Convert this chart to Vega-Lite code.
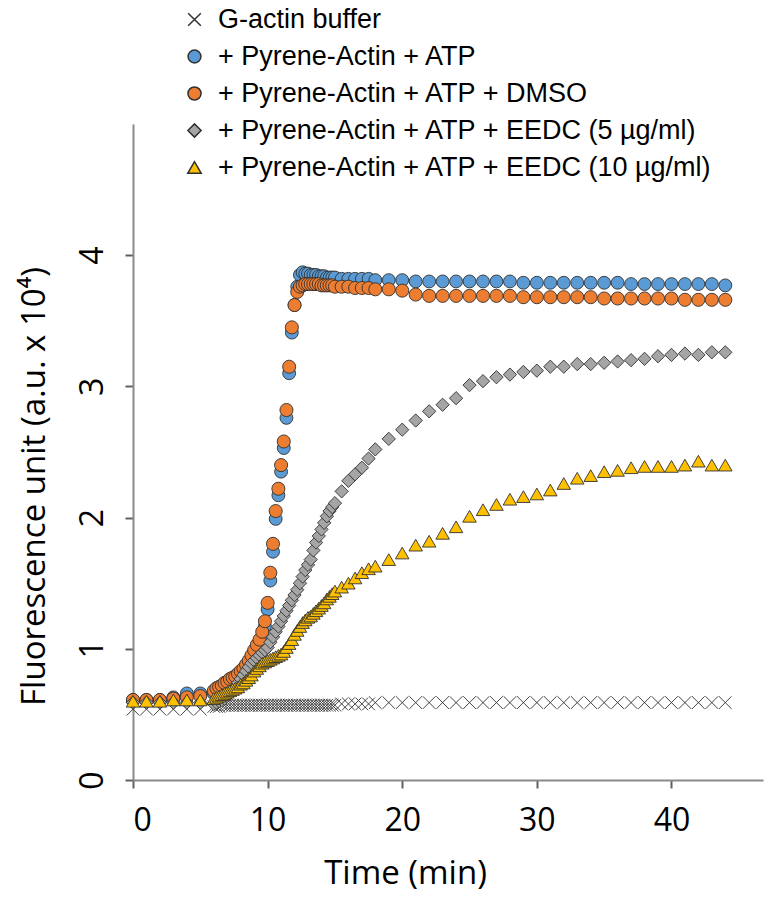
{
  "$schema": "https://vega.github.io/schema/vega-lite/v6.json",
  "width": 630,
  "height": 656,
  "autosize": {"type": "none"},
  "padding": {"left": 133, "top": 124, "right": 9, "bottom": 124},
  "background": "white",
  "config": {"view": {"stroke": null}, "font": "Open Sans"},
  "data": {"values": [
    {"t":0,"a":0.54,"b":0.61,"c":0.61,"d":0.59,"e":0.60},
    {"t":1,"a":0.54,"b":0.61,"c":0.61,"d":0.59,"e":0.60},
    {"t":2,"a":0.54,"b":0.61,"c":0.61,"d":0.59,"e":0.60},
    {"t":3,"a":0.54,"b":0.63,"c":0.62,"d":0.59,"e":0.61},
    {"t":4,"a":0.54,"b":0.66,"c":0.63,"d":0.59,"e":0.61},
    {"t":5,"a":0.54,"b":0.66,"c":0.64,"d":0.59,"e":0.61},
    {"t":6.0,"a":0.56,"b":0.66,"c":0.68,"d":0.58,"e":0.62},
    {"t":6.2,"a":0.56,"b":0.67,"c":0.70,"d":0.59,"e":0.63},
    {"t":6.4,"a":0.56,"b":0.68,"c":0.71,"d":0.60,"e":0.64},
    {"t":6.6,"a":0.57,"b":0.69,"c":0.72,"d":0.61,"e":0.65},
    {"t":6.8,"a":0.57,"b":0.71,"c":0.74,"d":0.62,"e":0.66},
    {"t":7.0,"a":0.57,"b":0.72,"c":0.75,"d":0.64,"e":0.67},
    {"t":7.2,"a":0.57,"b":0.74,"c":0.77,"d":0.66,"e":0.68},
    {"t":7.4,"a":0.57,"b":0.75,"c":0.78,"d":0.68,"e":0.69},
    {"t":7.6,"a":0.57,"b":0.77,"c":0.79,"d":0.71,"e":0.70},
    {"t":7.8,"a":0.57,"b":0.79,"c":0.81,"d":0.74,"e":0.71},
    {"t":8.0,"a":0.57,"b":0.81,"c":0.83,"d":0.77,"e":0.73},
    {"t":8.2,"a":0.57,"b":0.83,"c":0.85,"d":0.80,"e":0.74},
    {"t":8.4,"a":0.57,"b":0.86,"c":0.88,"d":0.83,"e":0.76},
    {"t":8.6,"a":0.57,"b":0.89,"c":0.91,"d":0.86,"e":0.78},
    {"t":8.8,"a":0.57,"b":0.93,"c":0.95,"d":0.89,"e":0.80},
    {"t":9.0,"a":0.57,"b":0.96,"c":0.99,"d":0.91,"e":0.83},
    {"t":9.2,"a":0.57,"b":1.00,"c":1.03,"d":0.93,"e":0.85},
    {"t":9.4,"a":0.57,"b":1.04,"c":1.07,"d":0.95,"e":0.87},
    {"t":9.6,"a":0.57,"b":1.09,"c":1.13,"d":0.97,"e":0.89},
    {"t":9.8,"a":0.57,"b":1.17,"c":1.21,"d":0.99,"e":0.90},
    {"t":10.0,"a":0.57,"b":1.30,"c":1.35,"d":1.01,"e":0.91},
    {"t":10.2,"a":0.57,"b":1.52,"c":1.58,"d":1.05,"e":0.92},
    {"t":10.4,"a":0.57,"b":1.74,"c":1.80,"d":1.09,"e":0.93},
    {"t":10.6,"a":0.57,"b":1.99,"c":2.05,"d":1.13,"e":0.94},
    {"t":10.8,"a":0.57,"b":2.17,"c":2.22,"d":1.17,"e":0.95},
    {"t":11.0,"a":0.57,"b":2.35,"c":2.40,"d":1.21,"e":0.96},
    {"t":11.2,"a":0.57,"b":2.53,"c":2.58,"d":1.25,"e":0.98},
    {"t":11.4,"a":0.57,"b":2.76,"c":2.82,"d":1.29,"e":1.01},
    {"t":11.6,"a":0.57,"b":3.10,"c":3.15,"d":1.33,"e":1.04},
    {"t":11.8,"a":0.57,"b":3.41,"c":3.45,"d":1.37,"e":1.07},
    {"t":12.0,"a":0.57,"b":3.62,"c":3.62,"d":1.41,"e":1.11},
    {"t":12.2,"a":0.57,"b":3.76,"c":3.72,"d":1.45,"e":1.14},
    {"t":12.4,"a":0.57,"b":3.85,"c":3.76,"d":1.50,"e":1.17},
    {"t":12.6,"a":0.57,"b":3.87,"c":3.77,"d":1.55,"e":1.20},
    {"t":12.8,"a":0.57,"b":3.86,"c":3.78,"d":1.60,"e":1.22},
    {"t":13.0,"a":0.57,"b":3.86,"c":3.78,"d":1.64,"e":1.24},
    {"t":13.2,"a":0.57,"b":3.85,"c":3.78,"d":1.68,"e":1.25},
    {"t":13.4,"a":0.57,"b":3.85,"c":3.78,"d":1.75,"e":1.27},
    {"t":13.6,"a":0.57,"b":3.85,"c":3.78,"d":1.81,"e":1.29},
    {"t":13.8,"a":0.57,"b":3.84,"c":3.78,"d":1.86,"e":1.31},
    {"t":14.0,"a":0.57,"b":3.84,"c":3.77,"d":1.91,"e":1.33},
    {"t":14.2,"a":0.57,"b":3.84,"c":3.77,"d":1.96,"e":1.35},
    {"t":14.4,"a":0.57,"b":3.83,"c":3.77,"d":2.01,"e":1.38},
    {"t":14.6,"a":0.57,"b":3.83,"c":3.77,"d":2.05,"e":1.40},
    {"t":14.8,"a":0.57,"b":3.83,"c":3.77,"d":2.08,"e":1.42},
    {"t":15.0,"a":0.57,"b":3.83,"c":3.76,"d":2.11,"e":1.44},
    {"t":15.5,"a":0.58,"b":3.82,"c":3.76,"d":2.20,"e":1.47},
    {"t":16,"a":0.58,"b":3.82,"c":3.76,"d":2.28,"e":1.50},
    {"t":16.5,"a":0.58,"b":3.82,"c":3.75,"d":2.33,"e":1.54},
    {"t":17,"a":0.58,"b":3.82,"c":3.75,"d":2.38,"e":1.58},
    {"t":17.5,"a":0.58,"b":3.82,"c":3.75,"d":2.45,"e":1.61},
    {"t":18,"a":0.59,"b":3.81,"c":3.74,"d":2.52,"e":1.63},
    {"t":19,"a":0.59,"b":3.81,"c":3.74,"d":2.60,"e":1.68},
    {"t":20,"a":0.59,"b":3.81,"c":3.73,"d":2.67,"e":1.73},
    {"t":21,"a":0.59,"b":3.80,"c":3.70,"d":2.74,"e":1.79},
    {"t":22,"a":0.59,"b":3.80,"c":3.69,"d":2.81,"e":1.82},
    {"t":23,"a":0.59,"b":3.80,"c":3.69,"d":2.86,"e":1.88},
    {"t":24,"a":0.59,"b":3.80,"c":3.69,"d":2.91,"e":1.93},
    {"t":25,"a":0.59,"b":3.80,"c":3.69,"d":3.01,"e":2.01},
    {"t":26,"a":0.59,"b":3.80,"c":3.69,"d":3.04,"e":2.06},
    {"t":27,"a":0.59,"b":3.80,"c":3.69,"d":3.07,"e":2.10},
    {"t":28,"a":0.59,"b":3.80,"c":3.69,"d":3.09,"e":2.14},
    {"t":29,"a":0.59,"b":3.79,"c":3.68,"d":3.11,"e":2.16},
    {"t":30,"a":0.59,"b":3.79,"c":3.68,"d":3.12,"e":2.18},
    {"t":31,"a":0.59,"b":3.79,"c":3.68,"d":3.15,"e":2.21},
    {"t":32,"a":0.59,"b":3.79,"c":3.68,"d":3.15,"e":2.26},
    {"t":33,"a":0.59,"b":3.79,"c":3.68,"d":3.17,"e":2.30},
    {"t":34,"a":0.59,"b":3.79,"c":3.68,"d":3.17,"e":2.32},
    {"t":35,"a":0.59,"b":3.79,"c":3.67,"d":3.18,"e":2.35},
    {"t":36,"a":0.59,"b":3.79,"c":3.67,"d":3.19,"e":2.36},
    {"t":37,"a":0.59,"b":3.78,"c":3.67,"d":3.20,"e":2.38},
    {"t":38,"a":0.59,"b":3.78,"c":3.67,"d":3.21,"e":2.39},
    {"t":39,"a":0.59,"b":3.78,"c":3.67,"d":3.23,"e":2.39},
    {"t":40,"a":0.59,"b":3.78,"c":3.67,"d":3.24,"e":2.39},
    {"t":41,"a":0.59,"b":3.78,"c":3.66,"d":3.25,"e":2.40},
    {"t":42,"a":0.59,"b":3.78,"c":3.66,"d":3.24,"e":2.43},
    {"t":43,"a":0.59,"b":3.78,"c":3.66,"d":3.26,"e":2.40},
    {"t":44,"a":0.59,"b":3.77,"c":3.66,"d":3.26,"e":2.40}
  ]},
  "transform": [{"fold": ["a", "b", "c", "d", "e"], "as": ["s", "v"]}],
  "mark": {"type": "point", "filled": true, "opacity": 1, "stroke": "#303030", "strokeWidth": 0.9},
  "encoding": {
    "x": {
      "field": "t", "type": "quantitative",
      "scale": {"domain": [0, 46.8], "nice": false, "zero": false},
      "axis": {
        "values": [0, 10, 20, 30, 40], "grid": false,
        "title": "Time (min)", "titleFont": "Open Sans", "titleFontSize": 33, "titleFontWeight": "normal", "titleColor": "#000000",
        "titleX": 272, "titleY": 93, "titleBaseline": "middle", "titleAlign": "center",
        "labelFont": "Open Sans", "labelFontSize": 32, "labelColor": "#000000", "labelBaseline": "middle", "labelPadding": 32,
        "tickSize": 8, "tickWidth": 2, "tickColor": "#606060",
        "domainColor": "#8a8a8a", "domainWidth": 2
      }
    },
    "y": {
      "field": "v", "type": "quantitative",
      "scale": {"domain": [0, 5], "nice": false},
      "axis": {
        "values": [0, 1, 2, 3, 4], "grid": false,
        "title": "Fluorescence unit (a.u. x 10⁴)", "titleFont": "Open Sans", "titleFontSize": 33, "titleFontWeight": "normal", "titleColor": "#000000",
        "titleX": -99, "titleY": 362, "titleAngle": -90, "titleBaseline": "middle", "titleAlign": "center",
        "labelFont": "Open Sans", "labelFontSize": 32, "labelColor": "#000000", "labelAngle": -90, "labelAlign": "center", "labelBaseline": "middle", "labelPadding": 33,
        "tickSize": 8, "tickWidth": 2, "tickColor": "#606060",
        "domainColor": "#8a8a8a", "domainWidth": 2
      }
    },
    "fill": {
      "field": "s", "type": "nominal",
      "scale": {"domain": ["a", "b", "c", "d", "e"], "range": ["#303030", "#5B9BD5", "#ED7D31", "#A5A5A5", "#FFC000"]},
      "legend": {"title": null, "orient": "none", "legendX": 48, "legendY": -118, "labelFont": "Liberation Sans", "labelFontSize": 27, "labelColor": "#000000", "labelLimit": 700, "rowPadding": 9, "labelOffset": 10,
        "labelExpr": "{'a':'G-actin buffer','b':'+ Pyrene-Actin + ATP','c':'+ Pyrene-Actin + ATP + DMSO','d':'+ Pyrene-Actin + ATP + EEDC (5 µg/ml)','e':'+ Pyrene-Actin + ATP + EEDC (10 µg/ml)'}[datum.label]"}
    },
    "shape": {
      "field": "s", "type": "nominal",
      "scale": {"domain": ["a", "b", "c", "d", "e"], "range": ["M-1,-1L1,1M-1,1L1,-1", "circle", "circle", "diamond", "triangle-up"]},
      "legend": {"title": null, "orient": "none", "legendX": 48, "legendY": -118, "labelFont": "Liberation Sans", "labelFontSize": 27, "labelColor": "#000000", "labelLimit": 700, "rowPadding": 9, "labelOffset": 10,
        "labelExpr": "{'a':'G-actin buffer','b':'+ Pyrene-Actin + ATP','c':'+ Pyrene-Actin + ATP + DMSO','d':'+ Pyrene-Actin + ATP + EEDC (5 µg/ml)','e':'+ Pyrene-Actin + ATP + EEDC (10 µg/ml)'}[datum.label]"}
    },
    "size": {
      "field": "s", "type": "nominal",
      "scale": {"domain": ["a", "b", "c", "d", "e"], "range": [160, 182, 182, 110, 150]},
      "legend": {"title": null, "orient": "none", "legendX": 48, "legendY": -118, "labelFont": "Liberation Sans", "labelFontSize": 27, "labelColor": "#000000", "labelLimit": 700, "rowPadding": 9, "labelOffset": 10,
        "labelExpr": "{'a':'G-actin buffer','b':'+ Pyrene-Actin + ATP','c':'+ Pyrene-Actin + ATP + DMSO','d':'+ Pyrene-Actin + ATP + EEDC (5 µg/ml)','e':'+ Pyrene-Actin + ATP + EEDC (10 µg/ml)'}[datum.label]"}
    },
    "order": {"field": "s", "type": "nominal"}
  }
}
